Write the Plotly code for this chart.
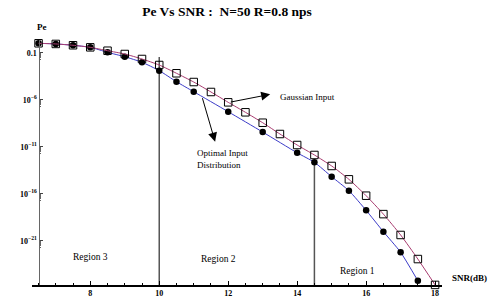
import plotly.graph_objects as go

# ---------------- data ----------------
snr_gauss = [6.5, 7.0, 7.5, 8.0, 8.5, 9.0, 9.5, 10.0, 10.5, 11.0, 11.5, 12.0, 12.5,
             13.0, 13.5, 14.0, 14.5, 15.0, 15.5, 16.0, 16.5, 17.0, 17.5, 18.0]
log_pe_gauss = [0.0, -0.07, -0.21, -0.43, -0.79, -1.14, -1.67, -2.31, -3.19, -4.12, -5.18,
                -6.28, -7.34, -8.45, -9.65, -10.82, -11.88, -13.05, -14.47, -16.21,
                -18.17, -20.39, -22.95, -25.7]

snr_opt = [6.5, 7.0, 7.5, 8.0, 8.5, 9.0, 9.5, 10.0, 10.5, 11.0, 12.0, 13.0,
           14.0, 14.5, 15.0, 15.5, 16.0, 16.5, 17.0, 17.5]
log_pe_opt = [0.0, -0.07, -0.21, -0.43, -0.96, -1.43, -2.02, -2.91, -4.09, -5.15, -7.28,
              -9.44, -11.65, -12.66, -14.19, -15.68, -17.77, -20.04, -22.23, -25.26]

pe_gauss = [10 ** v for v in log_pe_gauss]
pe_opt = [10 ** v for v in log_pe_opt]

region_bounds = [10.0, 14.5]
region_bound_tops = [10 ** -1.46, 10 ** -12.6]

x_major = [8, 10, 12, 14, 16, 18]
x_minor = [6.5 + 0.5 * i for i in range(24)]
y_major = [1e-1, 1e-6, 1e-11, 1e-16, 1e-21]
y_labels = ["0.1", "10<sup>\u22126</sup>", "10<sup>\u221211</sup>",
            "10<sup>\u221216</sup>", "10<sup>\u221221</sup>"]
y_minor = [m * v / 10 for v in y_major for m in range(2, 10)]

# ---------------- figure ----------------
SERIF = "Liberation Serif"
X0, X1 = 6.31, 18.2
YLOG0, YLOG1 = -25.71, 0.35
W, H = 495, 296
ML, MR, MT, MB = 32, 53, 40, 11
plot_w = W - ML - MR
plot_h = H - MT - MB
yaxis_pos = (6.5 - X0) / (X1 - X0)

fig = go.Figure()

ymin = 10 ** YLOG0
for xb, yt in zip(region_bounds, region_bound_tops):
    fig.add_trace(go.Scatter(x=[xb, xb], y=[ymin, yt], mode="lines",
                             line=dict(color="#555555", width=1.5),
                             showlegend=False, hoverinfo="skip"))

fig.add_trace(go.Scatter(x=snr_opt, y=pe_opt, mode="lines+markers",
                         line=dict(color="#3c3cc8", width=1, shape="spline", smoothing=0.6),
                         marker=dict(symbol="circle", size=6.5, color="black"),
                         showlegend=False, cliponaxis=False))
fig.add_trace(go.Scatter(x=snr_gauss, y=pe_gauss, mode="lines+markers",
                         line=dict(color="#a83c70", width=1, shape="spline", smoothing=0.6),
                         marker=dict(symbol="square-open", size=7.5, color="black",
                                     line=dict(width=1, color="black")),
                         showlegend=False, cliponaxis=False))

anns = []
# arrows
anns.append(dict(x=13.217, y=-5.43, ax=12.03, ay=-6.28, xref="x", yref="y",
                 axref="x", ayref="y", text="", showarrow=True, arrowhead=2,
                 arrowsize=1.8, arrowwidth=1, arrowcolor="black"))
anns.append(dict(x=11.62, y=-10.47, ax=11.24, ay=-5.68, xref="x", yref="y",
                 axref="x", ayref="y", text="", showarrow=True, arrowhead=2,
                 arrowsize=1.8, arrowwidth=1, arrowcolor="black"))
txt_font = dict(family=SERIF, size=9, color="black")
reg_font = dict(family=SERIF, size=9.5, color="black")
anns.append(dict(x=13.45, y=-5.71, xref="x", yref="y", text="Gaussian Input",
                 showarrow=False, xanchor="left", yanchor="middle", font=txt_font))
anns.append(dict(x=11.04, y=-12.26, xref="x", yref="y",
                 text="Optimal Input<br>Distribution", align="left",
                 showarrow=False, xanchor="left", yanchor="middle", font=txt_font))
anns.append(dict(x=8.0, y=-22.74, xref="x", yref="y", text="Region 3",
                 showarrow=False, font=reg_font))
anns.append(dict(x=11.72, y=-22.95, xref="x", yref="y", text="Region 2",
                 showarrow=False, font=reg_font))
anns.append(dict(x=15.74, y=-24.23, xref="x", yref="y", text="Region 1",
                 showarrow=False, font=reg_font))
lab_font = dict(family=SERIF, size=9, color="black")
anns.append(dict(x=(35 - ML) / plot_w, y=(285 - 27) / plot_h, xref="paper",
                 yref="paper", text="<b>Pe</b>", showarrow=False, xanchor="left",
                 yanchor="middle", font=lab_font))
anns.append(dict(x=(450 - ML) / plot_w, y=(285 - 278) / plot_h, xref="paper",
                 yref="paper", text="<b>SNR(dB)</b>", showarrow=False, xanchor="left",
                 yanchor="middle", font=lab_font))

fig.update_layout(
    template="none",
    width=W, height=H,
    margin=dict(l=ML, r=MR, t=MT, b=MB, pad=0),
    paper_bgcolor="white", plot_bgcolor="white",
    title=dict(text="<b>Pe Vs SNR :\u00a0 N=50 R=0.8 nps</b>", xref="container",
               yref="container", x=227 / W, y=1 - 11 / H, xanchor="center",
               yanchor="middle", font=dict(family=SERIF, size=13.5, color="black")),
    annotations=anns,
    xaxis=dict(range=[X0, X1], showgrid=False, zeroline=False, automargin=False,
               showline=True, linecolor="black", linewidth=1.5,
               tickmode="array", tickvals=x_major, ticktext=[f"<b>{v}</b>" for v in x_major],
               ticks="inside", ticklen=4, tickcolor="black", tickwidth=1,
               tickfont=dict(family=SERIF, size=8, color="black"),
               minor=dict(tickmode="array", tickvals=x_minor, ticks="inside",
                          ticklen=2.5, tickcolor="black", tickwidth=1, showgrid=False)),
    yaxis=dict(type="log", range=[YLOG0, YLOG1], showgrid=False, zeroline=False,
               automargin=False, anchor="free", position=yaxis_pos,
               showline=True, linecolor="#666666", linewidth=1.2,
               tickmode="array", tickvals=y_major,
               ticktext=[f"<b>{t}</b>" for t in y_labels],
               ticks="inside", ticklen=3, tickcolor="#444444", tickwidth=1,
               tickfont=dict(family=SERIF, size=8, color="black"),
               minor=dict(tickmode="array", tickvals=y_minor, ticks="inside",
                          ticklen=1.5, tickcolor="#666666", tickwidth=1, showgrid=False)),
)

fig.write_html("out.html", config={"displayModeBar": False},
               post_script="document.body.style.margin='0px';document.body.style.padding='0px';")
